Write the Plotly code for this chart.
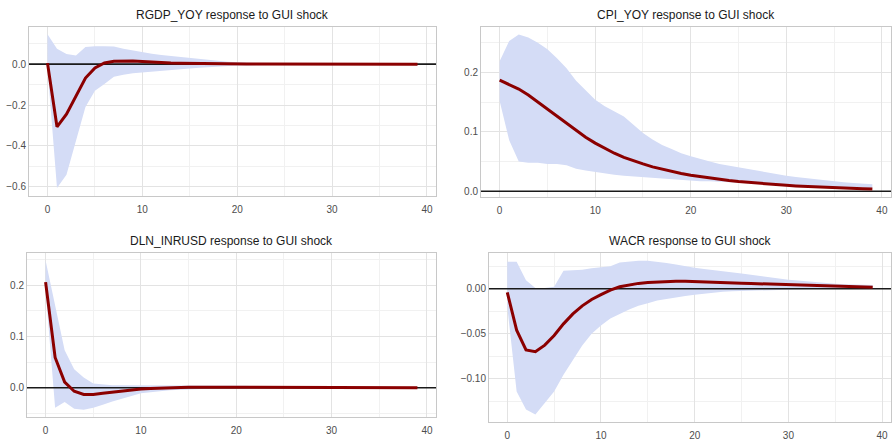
import plotly.graph_objects as go
from plotly.subplots import make_subplots

horizon = list(range(40))

titles = ["RGDP_YOY response to GUI shock", "CPI_YOY response to GUI shock",
          "DLN_INRUSD response to GUI shock", "WACR response to GUI shock"]

rgdp_irf = [0.005, -0.307, -0.245, -0.155, -0.068, -0.018, 0.006, 0.014, 0.016, 0.015,
            0.013, 0.010, 0.008, 0.006, 0.005, 0.004, 0.003, 0.002, 0.002, 0.001,
            0.001, 0.001, 0.0008, 0.0006, 0.0005, 0.0004, 0.0003, 0.0003, 0.0002, 0.0002,
            0.0001, 0.0001, 0.0001, 0.0, 0.0, 0.0, 0.0, 0.0, 0.0, 0.0]
rgdp_upper = [0.146, 0.076, 0.050, 0.042, 0.084, 0.088, 0.088, 0.086, 0.075, 0.066,
              0.058, 0.051, 0.045, 0.040, 0.035, 0.030, 0.025, 0.020, 0.016, 0.012,
              0.009, 0.007, 0.005, 0.004, 0.003, 0.003, 0.002, 0.002, 0.002, 0.001,
              0.001, 0.001, 0.001, 0.001, 0.0005, 0.0005, 0.0005, 0.0005, 0.0005, 0.0005]
rgdp_lower = [-0.02, -0.607, -0.542, -0.380, -0.210, -0.130, -0.097, -0.062, -0.052, -0.045,
              -0.040, -0.036, -0.033, -0.029, -0.025, -0.021, -0.018, -0.015, -0.012, -0.009,
              -0.007, -0.006, -0.005, -0.004, -0.003, -0.003, -0.002, -0.002, -0.002, -0.001,
              -0.001, -0.001, -0.001, -0.001, -0.0005, -0.0005, -0.0005, -0.0005, -0.0005, -0.0005]

cpi_irf = [0.187, 0.180, 0.172, 0.162, 0.150, 0.138, 0.126, 0.114, 0.102, 0.091,
           0.081, 0.072, 0.064, 0.057, 0.051, 0.046, 0.041, 0.037, 0.033, 0.030,
           0.027, 0.0245, 0.022, 0.020, 0.018, 0.0163, 0.0148, 0.0134, 0.0121, 0.011,
           0.010, 0.009, 0.0082, 0.0074, 0.0067, 0.006, 0.0054, 0.0048, 0.0043, 0.0038]
cpi_upper = [0.219, 0.253, 0.264, 0.259, 0.250, 0.239, 0.224, 0.207, 0.186, 0.170,
             0.154, 0.143, 0.134, 0.126, 0.112, 0.098, 0.087, 0.078, 0.071, 0.064,
             0.059, 0.054, 0.050, 0.046, 0.043, 0.040, 0.037, 0.034, 0.031, 0.028,
             0.026, 0.024, 0.022, 0.020, 0.018, 0.016, 0.015, 0.014, 0.013, 0.012]
cpi_lower = [0.152, 0.086, 0.050, 0.048, 0.048, 0.046, 0.046, 0.044, 0.038, 0.035,
             0.032, 0.030, 0.028, 0.026, 0.024, 0.023, 0.022, 0.021, 0.020, 0.019,
             0.018, 0.017, 0.017, 0.016, 0.015, 0.015, 0.014, 0.013, 0.012, 0.012,
             0.011, 0.010, 0.009, 0.009, 0.008, 0.007, 0.007, 0.006, 0.006, 0.005]

fx_irf = [0.206, 0.059, 0.011, -0.007, -0.013, -0.013, -0.011, -0.009, -0.006, -0.004,
          -0.0025, -0.0015, -0.0006, 0.0, 0.0005, 0.0008, 0.001, 0.001, 0.001, 0.001,
          0.001, 0.001, 0.0009, 0.0008, 0.0007, 0.0006, 0.0005, 0.0005, 0.0004, 0.0004,
          0.0003, 0.0003, 0.0002, 0.0002, 0.0002, 0.0001, 0.0001, 0.0001, 0.0001, 0.0]
fx_upper = [0.248, 0.160, 0.073, 0.036, 0.020, 0.008, 0.006, 0.005, 0.005, 0.005,
            0.005, 0.005, 0.005, 0.005, 0.005, 0.005, 0.005, 0.005, 0.004, 0.004,
            0.004, 0.004, 0.003, 0.003, 0.003, 0.003, 0.002, 0.002, 0.002, 0.002,
            0.002, 0.001, 0.001, 0.001, 0.001, 0.001, 0.001, 0.001, 0.001, 0.001]
fx_lower = [0.19, -0.039, -0.028, -0.041, -0.043, -0.039, -0.033, -0.027, -0.021, -0.016,
            -0.011, -0.009, -0.007, -0.005, -0.004, -0.003, -0.0025, -0.002, -0.0015, -0.001,
            -0.001, -0.001, -0.0008, -0.0007, -0.0006, -0.0005, -0.0005, -0.0004, -0.0004, -0.0003,
            -0.0003, -0.0003, -0.0002, -0.0002, -0.0002, -0.0001, -0.0001, -0.0001, -0.0001, -0.0001]

wacr_irf = [-0.004, -0.046, -0.068, -0.070, -0.0626, -0.052, -0.039, -0.028, -0.019, -0.012,
            -0.0066, -0.0015, 0.0022, 0.0044, 0.0059, 0.007, 0.0076, 0.008, 0.0082, 0.0082,
            0.008, 0.0078, 0.0075, 0.0071, 0.0067, 0.0062, 0.0058, 0.0055, 0.0051, 0.0047,
            0.0044, 0.004, 0.0036, 0.0033, 0.003, 0.0026, 0.0023, 0.002, 0.0017, 0.0015]
wacr_upper = [0.030, 0.030, 0.0095, 0.0007, 0.0007, 0.0022, 0.0198, 0.0205, 0.021, 0.0227,
              0.024, 0.025, 0.029, 0.0304, 0.031, 0.031, 0.030, 0.0285, 0.027, 0.025,
              0.0234, 0.022, 0.0205, 0.019, 0.018, 0.0168, 0.0155, 0.014, 0.0125, 0.011,
              0.0099, 0.009, 0.008, 0.007, 0.0063, 0.0055, 0.005, 0.0046, 0.0042, 0.004]
wacr_lower = [-0.02, -0.114, -0.134, -0.1396, -0.127, -0.114, -0.0956, -0.079, -0.063, -0.050,
              -0.0407, -0.033, -0.028, -0.023, -0.019, -0.016, -0.013, -0.011, -0.0095, -0.008,
              -0.0066, -0.0055, -0.0044, -0.0035, -0.0028, -0.0022, -0.0018, -0.0014, -0.001, -0.0008,
              -0.0007, -0.0005, -0.0003, -0.0001, 0.0, 0.0003, 0.0006, 0.0009, 0.0012, 0.0015]

x_ticks = [0, 10, 20, 30, 40]
y_ticks = [[-0.6, -0.4, -0.2, 0.0], [0.0, 0.1, 0.2], [0.0, 0.1, 0.2], [-0.10, -0.05, 0.00]]
y_fmt = [".1f", ".1f", ".1f", ".2f"]
y_minor = [0.1, 0.05, 0.05, 0.025]

series = [(rgdp_irf, rgdp_upper, rgdp_lower), (cpi_irf, cpi_upper, cpi_lower),
          (fx_irf, fx_upper, fx_lower), (wacr_irf, wacr_upper, wacr_lower)]

W, H = 892, 441
# panel pixel boxes (x0, x1, y0top, y1bottom)
boxes = [(29, 436, 27, 198), (481, 891, 27, 199), (27, 436, 256, 422), (489, 891, 256, 427)]

fig = make_subplots(rows=2, cols=2)
pos = [(1, 1), (1, 2), (2, 1), (2, 2)]
font = "Liberation Sans, Arial, sans-serif"

annotations = []
for i, (irf, up, lo) in enumerate(series):
    r, c = pos[i]
    fig.add_trace(go.Scatter(x=horizon + horizon[::-1], y=up + lo[::-1], fill="toself",
                             fillcolor="rgba(212,220,246,1)", line=dict(width=0),
                             mode="lines", hoverinfo="skip", showlegend=False), row=r, col=c)
    fig.add_trace(go.Scatter(x=[-1.95, 40.95], y=[0, 0], mode="lines",
                             line=dict(color="#1a1a1a", width=1.6), showlegend=False), row=r, col=c)
    fig.add_trace(go.Scatter(x=horizon, y=irf, mode="lines",
                             line=dict(color="#8b0000", width=3), showlegend=False), row=r, col=c)
    ymin, ymax = min(lo + irf), max(up + irf)
    span = ymax - ymin
    x0, x1, yt, yb = boxes[i]
    xd = [x0 / W, x1 / W]
    yd = [1 - yb / H, 1 - yt / H]
    fig.update_xaxes(domain=xd, range=[-1.95, 40.95], tickvals=x_ticks,
                     showgrid=True, gridcolor="#e3e3e3", gridwidth=1,
                     minor=dict(dtick=5, tick0=0, showgrid=True, gridcolor="#f1f1f1", gridwidth=1),
                     showline=True, mirror=True, linecolor="#c8c8c8", linewidth=1,
                     zeroline=False, ticks="", ticklabelstandoff=4,
                     tickfont=dict(size=10, color="#4d4d4d", family=font),
                     row=r, col=c)
    fig.update_yaxes(domain=yd, range=[ymin - 0.05 * span, ymax + 0.05 * span],
                     tickvals=y_ticks[i], tickformat=y_fmt[i],
                     showgrid=True, gridcolor="#e3e3e3", gridwidth=1,
                     minor=dict(dtick=y_minor[i], tick0=0, showgrid=True, gridcolor="#f1f1f1", gridwidth=1),
                     showline=True, mirror=True, linecolor="#c8c8c8", linewidth=1,
                     zeroline=False, ticks="", tickfont=dict(size=10, color="#4d4d4d", family=font),
                     row=r, col=c)
    annotations.append(dict(text=titles[i], x=(x0 + x1) / 2 / W, y=1 - (yt - 12) / H,
                            xref="paper", yref="paper", showarrow=False,
                            font=dict(size=12, color="#1a1a1a", family=font),
                            xanchor="center", yanchor="middle"))

fig.update_layout(width=W, height=H, margin=dict(l=0, r=0, t=0, b=0),
                  paper_bgcolor="white", plot_bgcolor="white",
                  annotations=annotations, showlegend=False)

fig.write_html("out.html")
